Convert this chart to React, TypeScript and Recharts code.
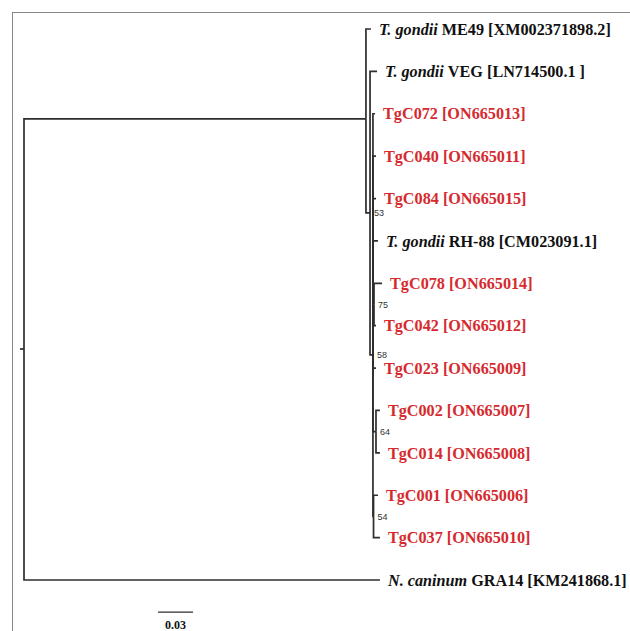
import { Scatter, ScatterChart, XAxis, YAxis } from "recharts";

// leaves, top to bottom (row = index)
const leafSpecies = [
  "T. gondii", "T. gondii", "", "", "", "T. gondii", "", "", "", "", "", "", "", "N. caninum",
];
const leafIsolates = [
  "ME49 [XM002371898.2]",
  "VEG [LN714500.1 ]",
  "TgC072 [ON665013]",
  "TgC040 [ON665011]",
  "TgC084 [ON665015]",
  "RH-88 [CM023091.1]",
  "TgC078 [ON665014]",
  "TgC042 [ON665012]",
  "TgC023 [ON665009]",
  "TgC002 [ON665007]",
  "TgC014 [ON665008]",
  "TgC001 [ON665006]",
  "TgC037 [ON665010]",
  "GRA14 [KM241868.1]",
];
const leafDepth = [
  0.2974, 0.3026, 0.3009, 0.3017, 0.3017, 0.3034, 0.3069, 0.3017, 0.3017, 0.3051, 0.3051, 0.3034,
  0.3051, 0.3051,
];
const leafParent = ["A", "B", "C", "C", "C", "C", "F", "F", "C", "H", "H", "I", "I", "R"];

// internal nodes
const nodeIds = ["R", "A", "B", "C", "F", "H", "I"];
const nodeParent = [null, "R", "A", "B", "C", "C", "C"];
const nodeDepth = [0, 0.2931, 0.2966, 0.2991, 0.3, 0.3017, 0.2996];
const nodeRow = [7.55, 2.12, 4.34, 7.69, 6.5, 9.5, 11.5];
const nodeSupport = [null, null, 53, 58, 75, 64, 54];

const rootStem = -0.0035;
const scaleBarStart = 0.1149;
const scaleBarLength = 0.03;
const scaleBarRow = 13.76;

const RED = "#d62a2f";
const BRANCH = "#2e2e2e";

type Pt = { x: number; y: number };

const nodePos: Record<string, Pt> = {};
nodeIds.forEach((id, i) => {
  nodePos[id] = { x: nodeDepth[i], y: nodeRow[i] };
});

const elbow = (parent: Pt, child: Pt): Pt[] => [
  { x: parent.x, y: parent.y },
  { x: parent.x, y: child.y },
  { x: child.x, y: child.y },
];

const edges: Pt[][] = [
  [
    { x: rootStem, y: nodePos.R.y },
    { x: 0, y: nodePos.R.y },
  ],
  ...nodeIds
    .map((id, i) => (nodeParent[i] ? elbow(nodePos[nodeParent[i] as string], nodePos[id]) : null))
    .filter((e): e is Pt[] => e !== null),
  ...leafIsolates.map((_, i) => elbow(nodePos[leafParent[i]], { x: leafDepth[i], y: i })),
];

const leaves = leafIsolates.map((iso, i) => ({
  x: leafDepth[i],
  y: i,
  species: leafSpecies[i],
  isolate: iso,
}));

const supports = nodeIds
  .map((id, i) => ({ x: nodeDepth[i], y: nodeRow[i], value: nodeSupport[i] }))
  .filter((n) => n.value !== null);

const scaleBar = [
  { x: scaleBarStart, y: scaleBarRow },
  { x: scaleBarStart + scaleBarLength, y: scaleBarRow },
];

const noDot = () => <g />;

const LeafLabel = (props: any) => {
  const { cx, cy, payload } = props;
  const ref = payload.species !== "";
  return (
    <text
      x={cx + 8}
      y={cy}
      dy="0.35em"
      fontFamily="'Liberation Serif', 'Times New Roman', serif"
      fontWeight="bold"
      fontSize={16.2}
      fill={ref ? "#111" : RED}
    >
      {ref ? <tspan fontStyle="italic">{payload.species} </tspan> : null}
      {payload.isolate}
    </text>
  );
};

const SupportLabel = (props: any) => {
  const { cx, cy, payload } = props;
  return (
    <text
      x={cx + 4}
      y={cy}
      dy="0.35em"
      fontFamily="'Liberation Sans', Arial, sans-serif"
      fontSize={9}
      fill="#333"
    >
      {payload.value}
    </text>
  );
};

export default function App() {
  const pxPerUnit = 35 / scaleBarLength;
  const xMin = -0.02;
  const xMax = 0.5;
  const left = 24 + xMin * pxPerUnit;
  const plotW = (xMax - xMin) * pxPerUnit;
  const rowPx = (580 - 29) / 13;
  const top = 29;
  const bottom = 631 - top - 14 * rowPx;
  const barMidX = 24 + (scaleBarStart + scaleBarLength / 2) * pxPerUnit;

  return (
    <div
      style={{
        position: "absolute",
        left: 0,
        top: 0,
        width: 630,
        height: 631,
        background: "#fff",
        overflow: "hidden",
      }}
    >
      <div
        style={{
          position: "absolute",
          left: 12,
          top: 12,
          width: 640,
          height: 640,
          borderTop: "1px solid #888",
          borderLeft: "1px solid #888",
        }}
      />
      <div style={{ position: "absolute", left: 0, top: 0 }}>
        <ScatterChart
          width={630}
          height={631}
          margin={{ left, right: 630 - left - plotW, top, bottom }}
        >
          <XAxis type="number" dataKey="x" domain={[xMin, xMax]} hide />
          <YAxis type="number" dataKey="y" domain={[0, 14]} reversed hide />
          {edges.map((e, i) => (
            <Scatter
              key={`e${i}`}
              data={e}
              line={{ stroke: BRANCH, strokeWidth: 1.7 }}
              shape={noDot}
              isAnimationActive={false}
            />
          ))}
          <Scatter
            data={scaleBar}
            line={{ stroke: BRANCH, strokeWidth: 1.2 }}
            shape={noDot}
            isAnimationActive={false}
          />
          <Scatter data={leaves} shape={LeafLabel} isAnimationActive={false} />
          <Scatter data={supports} shape={SupportLabel} isAnimationActive={false} />
        </ScatterChart>
      </div>
      <div
        style={{
          position: "absolute",
          left: barMidX - 20,
          width: 40,
          top: 618,
          textAlign: "center",
          fontFamily: "'Liberation Serif', 'Times New Roman', serif",
          fontWeight: "bold",
          fontSize: 12,
          lineHeight: "14px",
          color: "#111",
        }}
      >
        0.03
      </div>
    </div>
  );
}
